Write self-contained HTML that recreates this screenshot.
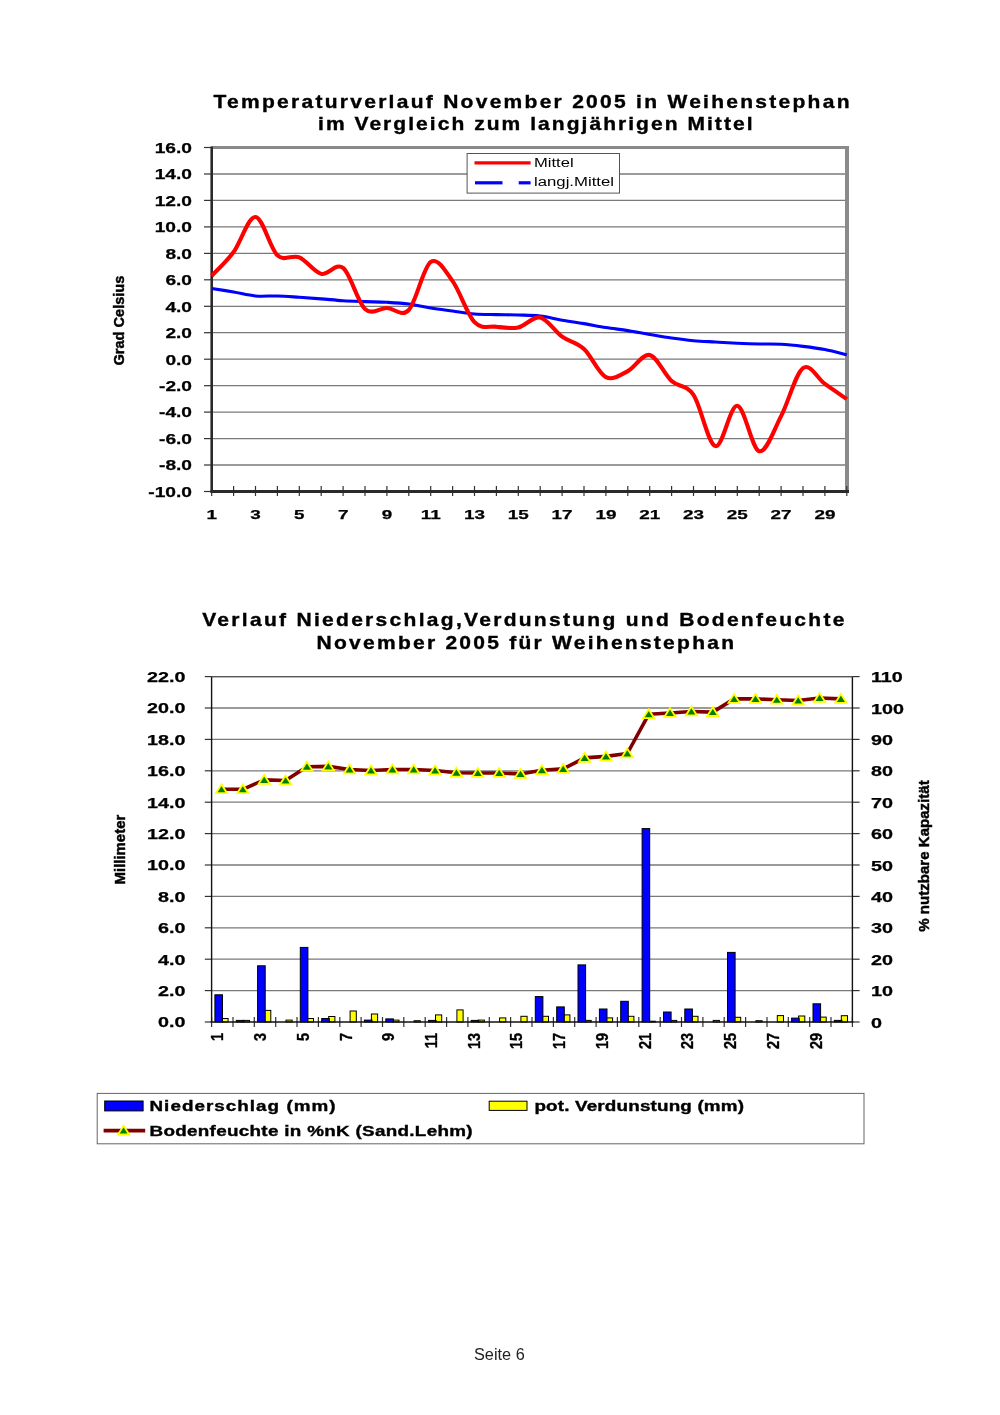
<!DOCTYPE html>
<html><head><meta charset="utf-8"><title>Seite 6</title>
<style>
html,body{margin:0;padding:0;background:#fff;}
svg{display:block;font-family:"Liberation Sans", Arial, sans-serif;}
</style></head><body>
<svg width="1000" height="1415" viewBox="0 0 1000 1415">
<rect width="1000" height="1415" fill="#fff"/>
<text transform="translate(213.5,107.5) scale(1.2,1)" font-size="17.5" font-weight="bold" fill="#000" stroke="#000" stroke-width="0.35" textLength="530.0" lengthAdjust="spacing">Temperaturverlauf November 2005 in Weihenstephan</text>
<text transform="translate(318.0,129.5) scale(1.2,1)" font-size="17.5" font-weight="bold" fill="#000" stroke="#000" stroke-width="0.35" textLength="362.1" lengthAdjust="spacing">im Vergleich zum langjährigen Mittel</text>
<line x1="211.7" y1="465.0" x2="847.0" y2="465.0" stroke="#7a7a7a" stroke-width="1.3"/>
<line x1="211.7" y1="438.6" x2="847.0" y2="438.6" stroke="#7a7a7a" stroke-width="1.3"/>
<line x1="211.7" y1="412.1" x2="847.0" y2="412.1" stroke="#7a7a7a" stroke-width="1.3"/>
<line x1="211.7" y1="385.7" x2="847.0" y2="385.7" stroke="#7a7a7a" stroke-width="1.3"/>
<line x1="211.7" y1="359.2" x2="847.0" y2="359.2" stroke="#7a7a7a" stroke-width="1.3"/>
<line x1="211.7" y1="332.7" x2="847.0" y2="332.7" stroke="#7a7a7a" stroke-width="1.3"/>
<line x1="211.7" y1="306.3" x2="847.0" y2="306.3" stroke="#7a7a7a" stroke-width="1.3"/>
<line x1="211.7" y1="279.8" x2="847.0" y2="279.8" stroke="#7a7a7a" stroke-width="1.3"/>
<line x1="211.7" y1="253.4" x2="847.0" y2="253.4" stroke="#7a7a7a" stroke-width="1.3"/>
<line x1="211.7" y1="226.9" x2="847.0" y2="226.9" stroke="#7a7a7a" stroke-width="1.3"/>
<line x1="211.7" y1="200.4" x2="847.0" y2="200.4" stroke="#7a7a7a" stroke-width="1.3"/>
<line x1="211.7" y1="174.0" x2="847.0" y2="174.0" stroke="#7a7a7a" stroke-width="1.3"/>
<line x1="204.0" y1="491.5" x2="211.7" y2="491.5" stroke="#333" stroke-width="1.2"/>
<line x1="204.0" y1="465.0" x2="211.7" y2="465.0" stroke="#333" stroke-width="1.2"/>
<line x1="204.0" y1="438.6" x2="211.7" y2="438.6" stroke="#333" stroke-width="1.2"/>
<line x1="204.0" y1="412.1" x2="211.7" y2="412.1" stroke="#333" stroke-width="1.2"/>
<line x1="204.0" y1="385.7" x2="211.7" y2="385.7" stroke="#333" stroke-width="1.2"/>
<line x1="204.0" y1="359.2" x2="211.7" y2="359.2" stroke="#333" stroke-width="1.2"/>
<line x1="204.0" y1="332.7" x2="211.7" y2="332.7" stroke="#333" stroke-width="1.2"/>
<line x1="204.0" y1="306.3" x2="211.7" y2="306.3" stroke="#333" stroke-width="1.2"/>
<line x1="204.0" y1="279.8" x2="211.7" y2="279.8" stroke="#333" stroke-width="1.2"/>
<line x1="204.0" y1="253.4" x2="211.7" y2="253.4" stroke="#333" stroke-width="1.2"/>
<line x1="204.0" y1="226.9" x2="211.7" y2="226.9" stroke="#333" stroke-width="1.2"/>
<line x1="204.0" y1="200.4" x2="211.7" y2="200.4" stroke="#333" stroke-width="1.2"/>
<line x1="204.0" y1="174.0" x2="211.7" y2="174.0" stroke="#333" stroke-width="1.2"/>
<line x1="204.0" y1="147.5" x2="211.7" y2="147.5" stroke="#333" stroke-width="1.2"/>
<line x1="211.7" y1="147.5" x2="849.0" y2="147.5" stroke="#8a8a8a" stroke-width="3"/>
<line x1="847.0" y1="147.5" x2="847.0" y2="491.5" stroke="#8a8a8a" stroke-width="4"/>
<line x1="211.7" y1="486.0" x2="211.7" y2="496.0" stroke="#333" stroke-width="1.2"/>
<line x1="233.6" y1="486.0" x2="233.6" y2="496.0" stroke="#333" stroke-width="1.2"/>
<line x1="255.5" y1="486.0" x2="255.5" y2="496.0" stroke="#333" stroke-width="1.2"/>
<line x1="277.4" y1="486.0" x2="277.4" y2="496.0" stroke="#333" stroke-width="1.2"/>
<line x1="299.3" y1="486.0" x2="299.3" y2="496.0" stroke="#333" stroke-width="1.2"/>
<line x1="321.2" y1="486.0" x2="321.2" y2="496.0" stroke="#333" stroke-width="1.2"/>
<line x1="343.1" y1="486.0" x2="343.1" y2="496.0" stroke="#333" stroke-width="1.2"/>
<line x1="365.0" y1="486.0" x2="365.0" y2="496.0" stroke="#333" stroke-width="1.2"/>
<line x1="386.9" y1="486.0" x2="386.9" y2="496.0" stroke="#333" stroke-width="1.2"/>
<line x1="408.8" y1="486.0" x2="408.8" y2="496.0" stroke="#333" stroke-width="1.2"/>
<line x1="430.7" y1="486.0" x2="430.7" y2="496.0" stroke="#333" stroke-width="1.2"/>
<line x1="452.6" y1="486.0" x2="452.6" y2="496.0" stroke="#333" stroke-width="1.2"/>
<line x1="474.5" y1="486.0" x2="474.5" y2="496.0" stroke="#333" stroke-width="1.2"/>
<line x1="496.4" y1="486.0" x2="496.4" y2="496.0" stroke="#333" stroke-width="1.2"/>
<line x1="518.3" y1="486.0" x2="518.3" y2="496.0" stroke="#333" stroke-width="1.2"/>
<line x1="540.2" y1="486.0" x2="540.2" y2="496.0" stroke="#333" stroke-width="1.2"/>
<line x1="562.1" y1="486.0" x2="562.1" y2="496.0" stroke="#333" stroke-width="1.2"/>
<line x1="584.0" y1="486.0" x2="584.0" y2="496.0" stroke="#333" stroke-width="1.2"/>
<line x1="605.9" y1="486.0" x2="605.9" y2="496.0" stroke="#333" stroke-width="1.2"/>
<line x1="627.8" y1="486.0" x2="627.8" y2="496.0" stroke="#333" stroke-width="1.2"/>
<line x1="649.7" y1="486.0" x2="649.7" y2="496.0" stroke="#333" stroke-width="1.2"/>
<line x1="671.6" y1="486.0" x2="671.6" y2="496.0" stroke="#333" stroke-width="1.2"/>
<line x1="693.5" y1="486.0" x2="693.5" y2="496.0" stroke="#333" stroke-width="1.2"/>
<line x1="715.4" y1="486.0" x2="715.4" y2="496.0" stroke="#333" stroke-width="1.2"/>
<line x1="737.3" y1="486.0" x2="737.3" y2="496.0" stroke="#333" stroke-width="1.2"/>
<line x1="759.2" y1="486.0" x2="759.2" y2="496.0" stroke="#333" stroke-width="1.2"/>
<line x1="781.1" y1="486.0" x2="781.1" y2="496.0" stroke="#333" stroke-width="1.2"/>
<line x1="803.0" y1="486.0" x2="803.0" y2="496.0" stroke="#333" stroke-width="1.2"/>
<line x1="824.9" y1="486.0" x2="824.9" y2="496.0" stroke="#333" stroke-width="1.2"/>
<line x1="846.8" y1="486.0" x2="846.8" y2="496.0" stroke="#333" stroke-width="1.2"/>
<line x1="211.7" y1="146.5" x2="211.7" y2="493.0" stroke="#2a2a2a" stroke-width="2.6"/>
<line x1="210.7" y1="491.5" x2="849.0" y2="491.5" stroke="#2a2a2a" stroke-width="3"/>
<text x="148.3" y="496.8" font-size="14.2" font-weight="bold" fill="#000" stroke="#000" stroke-width="0.25" textLength="43.7" lengthAdjust="spacingAndGlyphs">-10.0</text>
<text x="159.0" y="470.3" font-size="14.2" font-weight="bold" fill="#000" stroke="#000" stroke-width="0.25" textLength="33.0" lengthAdjust="spacingAndGlyphs">-8.0</text>
<text x="159.0" y="443.9" font-size="14.2" font-weight="bold" fill="#000" stroke="#000" stroke-width="0.25" textLength="33.0" lengthAdjust="spacingAndGlyphs">-6.0</text>
<text x="159.0" y="417.4" font-size="14.2" font-weight="bold" fill="#000" stroke="#000" stroke-width="0.25" textLength="33.0" lengthAdjust="spacingAndGlyphs">-4.0</text>
<text x="159.0" y="391.0" font-size="14.2" font-weight="bold" fill="#000" stroke="#000" stroke-width="0.25" textLength="33.0" lengthAdjust="spacingAndGlyphs">-2.0</text>
<text x="165.4" y="364.5" font-size="14.2" font-weight="bold" fill="#000" stroke="#000" stroke-width="0.25" textLength="26.6" lengthAdjust="spacingAndGlyphs">0.0</text>
<text x="165.4" y="338.0" font-size="14.2" font-weight="bold" fill="#000" stroke="#000" stroke-width="0.25" textLength="26.6" lengthAdjust="spacingAndGlyphs">2.0</text>
<text x="165.4" y="311.6" font-size="14.2" font-weight="bold" fill="#000" stroke="#000" stroke-width="0.25" textLength="26.6" lengthAdjust="spacingAndGlyphs">4.0</text>
<text x="165.4" y="285.1" font-size="14.2" font-weight="bold" fill="#000" stroke="#000" stroke-width="0.25" textLength="26.6" lengthAdjust="spacingAndGlyphs">6.0</text>
<text x="165.4" y="258.7" font-size="14.2" font-weight="bold" fill="#000" stroke="#000" stroke-width="0.25" textLength="26.6" lengthAdjust="spacingAndGlyphs">8.0</text>
<text x="154.7" y="232.2" font-size="14.2" font-weight="bold" fill="#000" stroke="#000" stroke-width="0.25" textLength="37.3" lengthAdjust="spacingAndGlyphs">10.0</text>
<text x="154.7" y="205.7" font-size="14.2" font-weight="bold" fill="#000" stroke="#000" stroke-width="0.25" textLength="37.3" lengthAdjust="spacingAndGlyphs">12.0</text>
<text x="154.7" y="179.3" font-size="14.2" font-weight="bold" fill="#000" stroke="#000" stroke-width="0.25" textLength="37.3" lengthAdjust="spacingAndGlyphs">14.0</text>
<text x="154.7" y="152.8" font-size="14.2" font-weight="bold" fill="#000" stroke="#000" stroke-width="0.25" textLength="37.3" lengthAdjust="spacingAndGlyphs">16.0</text>
<text x="206.5" y="519.0" font-size="13.2" font-weight="bold" fill="#000" stroke="#000" stroke-width="0.25" textLength="10.5" lengthAdjust="spacingAndGlyphs">1</text>
<text x="250.3" y="519.0" font-size="13.2" font-weight="bold" fill="#000" stroke="#000" stroke-width="0.25" textLength="10.5" lengthAdjust="spacingAndGlyphs">3</text>
<text x="294.1" y="519.0" font-size="13.2" font-weight="bold" fill="#000" stroke="#000" stroke-width="0.25" textLength="10.5" lengthAdjust="spacingAndGlyphs">5</text>
<text x="337.9" y="519.0" font-size="13.2" font-weight="bold" fill="#000" stroke="#000" stroke-width="0.25" textLength="10.5" lengthAdjust="spacingAndGlyphs">7</text>
<text x="381.7" y="519.0" font-size="13.2" font-weight="bold" fill="#000" stroke="#000" stroke-width="0.25" textLength="10.5" lengthAdjust="spacingAndGlyphs">9</text>
<text x="420.7" y="519.0" font-size="13.2" font-weight="bold" fill="#000" stroke="#000" stroke-width="0.25" textLength="20.0" lengthAdjust="spacingAndGlyphs">11</text>
<text x="464.0" y="519.0" font-size="13.2" font-weight="bold" fill="#000" stroke="#000" stroke-width="0.25" textLength="21.0" lengthAdjust="spacingAndGlyphs">13</text>
<text x="507.8" y="519.0" font-size="13.2" font-weight="bold" fill="#000" stroke="#000" stroke-width="0.25" textLength="21.0" lengthAdjust="spacingAndGlyphs">15</text>
<text x="551.6" y="519.0" font-size="13.2" font-weight="bold" fill="#000" stroke="#000" stroke-width="0.25" textLength="21.0" lengthAdjust="spacingAndGlyphs">17</text>
<text x="595.4" y="519.0" font-size="13.2" font-weight="bold" fill="#000" stroke="#000" stroke-width="0.25" textLength="21.0" lengthAdjust="spacingAndGlyphs">19</text>
<text x="639.2" y="519.0" font-size="13.2" font-weight="bold" fill="#000" stroke="#000" stroke-width="0.25" textLength="21.0" lengthAdjust="spacingAndGlyphs">21</text>
<text x="683.0" y="519.0" font-size="13.2" font-weight="bold" fill="#000" stroke="#000" stroke-width="0.25" textLength="21.0" lengthAdjust="spacingAndGlyphs">23</text>
<text x="726.8" y="519.0" font-size="13.2" font-weight="bold" fill="#000" stroke="#000" stroke-width="0.25" textLength="21.0" lengthAdjust="spacingAndGlyphs">25</text>
<text x="770.6" y="519.0" font-size="13.2" font-weight="bold" fill="#000" stroke="#000" stroke-width="0.25" textLength="21.0" lengthAdjust="spacingAndGlyphs">27</text>
<text x="814.4" y="519.0" font-size="13.2" font-weight="bold" fill="#000" stroke="#000" stroke-width="0.25" textLength="21.0" lengthAdjust="spacingAndGlyphs">29</text>
<path d="M211.70,288.42 C215.35,289.01 226.30,290.73 233.60,291.99 C240.90,293.25 248.20,295.30 255.50,295.96 C262.80,296.62 270.10,295.74 277.40,295.96 C284.70,296.18 292.00,296.80 299.30,297.28 C306.60,297.77 313.90,298.30 321.20,298.87 C328.50,299.44 335.80,300.26 343.10,300.72 C350.40,301.19 357.70,301.38 365.00,301.65 C372.30,301.91 379.60,301.91 386.90,302.31 C394.20,302.71 401.50,303.08 408.80,304.03 C416.10,304.98 423.40,306.83 430.70,308.00 C438.00,309.17 445.30,310.05 452.60,311.04 C459.90,312.04 467.20,313.36 474.50,313.95 C481.80,314.55 489.10,314.44 496.40,314.61 C503.70,314.79 511.00,314.77 518.30,315.01 C525.60,315.25 532.90,315.21 540.20,316.07 C547.50,316.93 554.80,318.91 562.10,320.17 C569.40,321.43 576.70,322.38 584.00,323.61 C591.30,324.85 598.60,326.41 605.90,327.58 C613.20,328.75 620.50,329.48 627.80,330.62 C635.10,331.77 642.40,333.23 649.70,334.46 C657.00,335.69 664.30,337.00 671.60,338.03 C678.90,339.07 686.20,340.02 693.50,340.68 C700.80,341.34 708.10,341.58 715.40,342.00 C722.70,342.42 730.00,342.86 737.30,343.19 C744.60,343.52 751.90,343.81 759.20,343.99 C766.50,344.16 773.80,343.85 781.10,344.25 C788.40,344.65 795.70,345.48 803.00,346.37 C810.30,347.25 817.60,348.13 824.90,349.54 C832.20,350.95 843.15,353.95 846.80,354.83" fill="none" stroke="#0000ff" stroke-width="3.1" stroke-linejoin="round"/>
<path d="M211.70,275.85 C215.35,271.88 226.30,261.85 233.60,252.04 C240.90,242.22 248.20,216.43 255.50,216.98 C262.80,217.53 270.10,248.62 277.40,255.34 C284.70,262.07 292.00,254.24 299.30,257.33 C306.60,260.42 313.90,272.10 321.20,273.87 C328.50,275.63 335.80,262.07 343.10,267.91 C350.40,273.76 357.70,302.24 365.00,308.93 C372.30,315.61 379.60,307.82 386.90,308.00 C394.20,308.18 401.50,317.66 408.80,309.98 C416.10,302.31 423.40,266.77 430.70,261.96 C438.00,257.15 445.30,271.11 452.60,281.14 C459.90,291.18 467.20,314.55 474.50,322.16 C481.80,329.76 489.10,325.90 496.40,326.79 C503.70,327.67 511.00,328.99 518.30,327.45 C525.60,325.90 532.90,315.98 540.20,317.53 C547.50,319.07 554.80,331.46 562.10,336.71 C569.40,341.96 576.70,342.29 584.00,349.01 C591.30,355.74 598.60,373.38 605.90,377.06 C613.20,380.74 620.50,374.79 627.80,371.11 C635.10,367.42 642.40,353.31 649.70,354.97 C657.00,356.62 664.30,374.37 671.60,381.03 C678.90,387.69 686.20,384.07 693.50,394.92 C700.80,405.77 708.10,444.31 715.40,446.12 C722.70,447.93 730.00,404.93 737.30,405.77 C744.60,406.61 751.90,449.43 759.20,451.15 C766.50,452.87 773.80,429.94 781.10,416.09 C788.40,402.24 795.70,373.42 803.00,368.06 C810.30,362.71 817.60,378.76 824.90,383.94 C832.20,389.12 843.15,396.62 846.80,399.15" fill="none" stroke="#ff0000" stroke-width="4.1" stroke-linejoin="round"/>
<rect x="467.1" y="153.5" width="152.4" height="39.6" fill="#fff" stroke="#555" stroke-width="1"/>
<line x1="474.5" y1="162.9" x2="530.6" y2="162.9" stroke="#ff0000" stroke-width="3.2"/>
<line x1="475.0" y1="182.8" x2="502.5" y2="182.8" stroke="#0000ff" stroke-width="3.2"/>
<line x1="518.7" y1="182.8" x2="530.6" y2="182.8" stroke="#0000ff" stroke-width="3.2"/>
<text x="534.0" y="166.6" font-size="12.5" font-weight="normal" text-anchor="start" fill="#000" textLength="39.6" lengthAdjust="spacingAndGlyphs">Mittel</text>
<text x="534.0" y="185.8" font-size="12.5" font-weight="normal" text-anchor="start" fill="#000" textLength="80.0" lengthAdjust="spacingAndGlyphs">langj.Mittel</text>
<text transform="translate(124.2,320.6) rotate(-90)" font-size="14.3" font-weight="bold" stroke="#000" stroke-width="0.45" text-anchor="middle" textLength="89.8" lengthAdjust="spacingAndGlyphs">Grad Celsius</text>
<text transform="translate(202.2,625.8) scale(1.2,1)" font-size="17.5" font-weight="bold" fill="#000" stroke="#000" stroke-width="0.35" textLength="535.2" lengthAdjust="spacing">Verlauf Niederschlag,Verdunstung und Bodenfeuchte</text>
<text transform="translate(316.6,648.5) scale(1.2,1)" font-size="17.5" font-weight="bold" fill="#000" stroke="#000" stroke-width="0.35" textLength="347.8" lengthAdjust="spacing">November 2005 für Weihenstephan</text>
<line x1="211.6" y1="990.6" x2="852.4" y2="990.6" stroke="#7a7a7a" stroke-width="1.3"/>
<line x1="211.6" y1="959.2" x2="852.4" y2="959.2" stroke="#7a7a7a" stroke-width="1.3"/>
<line x1="211.6" y1="927.8" x2="852.4" y2="927.8" stroke="#7a7a7a" stroke-width="1.3"/>
<line x1="211.6" y1="896.4" x2="852.4" y2="896.4" stroke="#7a7a7a" stroke-width="1.3"/>
<line x1="211.6" y1="865.0" x2="852.4" y2="865.0" stroke="#7a7a7a" stroke-width="1.3"/>
<line x1="211.6" y1="833.6" x2="852.4" y2="833.6" stroke="#7a7a7a" stroke-width="1.3"/>
<line x1="211.6" y1="802.2" x2="852.4" y2="802.2" stroke="#7a7a7a" stroke-width="1.3"/>
<line x1="211.6" y1="770.8" x2="852.4" y2="770.8" stroke="#7a7a7a" stroke-width="1.3"/>
<line x1="211.6" y1="739.4" x2="852.4" y2="739.4" stroke="#7a7a7a" stroke-width="1.3"/>
<line x1="211.6" y1="708.0" x2="852.4" y2="708.0" stroke="#7a7a7a" stroke-width="1.3"/>
<line x1="211.6" y1="676.6" x2="852.4" y2="676.6" stroke="#7a7a7a" stroke-width="1.3"/>
<line x1="204.8" y1="1022.0" x2="211.6" y2="1022.0" stroke="#333" stroke-width="1.2"/>
<line x1="852.4" y1="1022.0" x2="859.6" y2="1022.0" stroke="#333" stroke-width="1.2"/>
<line x1="204.8" y1="990.6" x2="211.6" y2="990.6" stroke="#333" stroke-width="1.2"/>
<line x1="852.4" y1="990.6" x2="859.6" y2="990.6" stroke="#333" stroke-width="1.2"/>
<line x1="204.8" y1="959.2" x2="211.6" y2="959.2" stroke="#333" stroke-width="1.2"/>
<line x1="852.4" y1="959.2" x2="859.6" y2="959.2" stroke="#333" stroke-width="1.2"/>
<line x1="204.8" y1="927.8" x2="211.6" y2="927.8" stroke="#333" stroke-width="1.2"/>
<line x1="852.4" y1="927.8" x2="859.6" y2="927.8" stroke="#333" stroke-width="1.2"/>
<line x1="204.8" y1="896.4" x2="211.6" y2="896.4" stroke="#333" stroke-width="1.2"/>
<line x1="852.4" y1="896.4" x2="859.6" y2="896.4" stroke="#333" stroke-width="1.2"/>
<line x1="204.8" y1="865.0" x2="211.6" y2="865.0" stroke="#333" stroke-width="1.2"/>
<line x1="852.4" y1="865.0" x2="859.6" y2="865.0" stroke="#333" stroke-width="1.2"/>
<line x1="204.8" y1="833.6" x2="211.6" y2="833.6" stroke="#333" stroke-width="1.2"/>
<line x1="852.4" y1="833.6" x2="859.6" y2="833.6" stroke="#333" stroke-width="1.2"/>
<line x1="204.8" y1="802.2" x2="211.6" y2="802.2" stroke="#333" stroke-width="1.2"/>
<line x1="852.4" y1="802.2" x2="859.6" y2="802.2" stroke="#333" stroke-width="1.2"/>
<line x1="204.8" y1="770.8" x2="211.6" y2="770.8" stroke="#333" stroke-width="1.2"/>
<line x1="852.4" y1="770.8" x2="859.6" y2="770.8" stroke="#333" stroke-width="1.2"/>
<line x1="204.8" y1="739.4" x2="211.6" y2="739.4" stroke="#333" stroke-width="1.2"/>
<line x1="852.4" y1="739.4" x2="859.6" y2="739.4" stroke="#333" stroke-width="1.2"/>
<line x1="204.8" y1="708.0" x2="211.6" y2="708.0" stroke="#333" stroke-width="1.2"/>
<line x1="852.4" y1="708.0" x2="859.6" y2="708.0" stroke="#333" stroke-width="1.2"/>
<line x1="204.8" y1="676.6" x2="211.6" y2="676.6" stroke="#333" stroke-width="1.2"/>
<line x1="852.4" y1="676.6" x2="859.6" y2="676.6" stroke="#333" stroke-width="1.2"/>
<line x1="211.6" y1="1017.0" x2="211.6" y2="1027.0" stroke="#333" stroke-width="1.2"/>
<line x1="233.0" y1="1017.0" x2="233.0" y2="1027.0" stroke="#333" stroke-width="1.2"/>
<line x1="254.3" y1="1017.0" x2="254.3" y2="1027.0" stroke="#333" stroke-width="1.2"/>
<line x1="275.7" y1="1017.0" x2="275.7" y2="1027.0" stroke="#333" stroke-width="1.2"/>
<line x1="297.0" y1="1017.0" x2="297.0" y2="1027.0" stroke="#333" stroke-width="1.2"/>
<line x1="318.4" y1="1017.0" x2="318.4" y2="1027.0" stroke="#333" stroke-width="1.2"/>
<line x1="339.8" y1="1017.0" x2="339.8" y2="1027.0" stroke="#333" stroke-width="1.2"/>
<line x1="361.1" y1="1017.0" x2="361.1" y2="1027.0" stroke="#333" stroke-width="1.2"/>
<line x1="382.5" y1="1017.0" x2="382.5" y2="1027.0" stroke="#333" stroke-width="1.2"/>
<line x1="403.8" y1="1017.0" x2="403.8" y2="1027.0" stroke="#333" stroke-width="1.2"/>
<line x1="425.2" y1="1017.0" x2="425.2" y2="1027.0" stroke="#333" stroke-width="1.2"/>
<line x1="446.6" y1="1017.0" x2="446.6" y2="1027.0" stroke="#333" stroke-width="1.2"/>
<line x1="467.9" y1="1017.0" x2="467.9" y2="1027.0" stroke="#333" stroke-width="1.2"/>
<line x1="489.3" y1="1017.0" x2="489.3" y2="1027.0" stroke="#333" stroke-width="1.2"/>
<line x1="510.6" y1="1017.0" x2="510.6" y2="1027.0" stroke="#333" stroke-width="1.2"/>
<line x1="532.0" y1="1017.0" x2="532.0" y2="1027.0" stroke="#333" stroke-width="1.2"/>
<line x1="553.4" y1="1017.0" x2="553.4" y2="1027.0" stroke="#333" stroke-width="1.2"/>
<line x1="574.7" y1="1017.0" x2="574.7" y2="1027.0" stroke="#333" stroke-width="1.2"/>
<line x1="596.1" y1="1017.0" x2="596.1" y2="1027.0" stroke="#333" stroke-width="1.2"/>
<line x1="617.4" y1="1017.0" x2="617.4" y2="1027.0" stroke="#333" stroke-width="1.2"/>
<line x1="638.8" y1="1017.0" x2="638.8" y2="1027.0" stroke="#333" stroke-width="1.2"/>
<line x1="660.2" y1="1017.0" x2="660.2" y2="1027.0" stroke="#333" stroke-width="1.2"/>
<line x1="681.5" y1="1017.0" x2="681.5" y2="1027.0" stroke="#333" stroke-width="1.2"/>
<line x1="702.9" y1="1017.0" x2="702.9" y2="1027.0" stroke="#333" stroke-width="1.2"/>
<line x1="724.2" y1="1017.0" x2="724.2" y2="1027.0" stroke="#333" stroke-width="1.2"/>
<line x1="745.6" y1="1017.0" x2="745.6" y2="1027.0" stroke="#333" stroke-width="1.2"/>
<line x1="767.0" y1="1017.0" x2="767.0" y2="1027.0" stroke="#333" stroke-width="1.2"/>
<line x1="788.3" y1="1017.0" x2="788.3" y2="1027.0" stroke="#333" stroke-width="1.2"/>
<line x1="809.7" y1="1017.0" x2="809.7" y2="1027.0" stroke="#333" stroke-width="1.2"/>
<line x1="831.0" y1="1017.0" x2="831.0" y2="1027.0" stroke="#333" stroke-width="1.2"/>
<line x1="852.4" y1="1017.0" x2="852.4" y2="1027.0" stroke="#333" stroke-width="1.2"/>
<rect x="221.9" y="1018.5" width="6.2" height="3.5" fill="#ffff00" stroke="#000" stroke-width="1"/>
<rect x="214.9" y="994.8" width="7.6" height="27.2" fill="#0000ff" stroke="#000" stroke-width="1"/>
<rect x="243.3" y="1020.4" width="6.2" height="1.6" fill="#ffff00" stroke="#000" stroke-width="1"/>
<rect x="236.3" y="1020.4" width="7.6" height="1.6" fill="#0000ff" stroke="#000" stroke-width="1"/>
<rect x="264.6" y="1010.4" width="6.2" height="11.6" fill="#ffff00" stroke="#000" stroke-width="1"/>
<rect x="257.6" y="965.8" width="7.6" height="56.2" fill="#0000ff" stroke="#000" stroke-width="1"/>
<rect x="286.0" y="1020.1" width="6.2" height="1.9" fill="#ffff00" stroke="#000" stroke-width="1"/>
<rect x="307.3" y="1018.5" width="6.2" height="3.5" fill="#ffff00" stroke="#000" stroke-width="1"/>
<rect x="300.3" y="947.4" width="7.6" height="74.6" fill="#0000ff" stroke="#000" stroke-width="1"/>
<rect x="328.7" y="1016.5" width="6.2" height="5.5" fill="#ffff00" stroke="#000" stroke-width="1"/>
<rect x="321.7" y="1018.5" width="7.6" height="3.5" fill="#0000ff" stroke="#000" stroke-width="1"/>
<rect x="350.1" y="1011.0" width="6.2" height="11.0" fill="#ffff00" stroke="#000" stroke-width="1"/>
<rect x="371.4" y="1014.0" width="6.2" height="8.0" fill="#ffff00" stroke="#000" stroke-width="1"/>
<rect x="364.4" y="1020.1" width="7.6" height="1.9" fill="#0000ff" stroke="#000" stroke-width="1"/>
<rect x="392.8" y="1020.1" width="6.2" height="1.9" fill="#ffff00" stroke="#000" stroke-width="1"/>
<rect x="385.8" y="1018.9" width="7.6" height="3.1" fill="#0000ff" stroke="#000" stroke-width="1"/>
<rect x="414.1" y="1020.7" width="6.2" height="1.3" fill="#ffff00" stroke="#000" stroke-width="1"/>
<rect x="435.5" y="1014.9" width="6.2" height="7.1" fill="#ffff00" stroke="#000" stroke-width="1"/>
<rect x="428.5" y="1020.4" width="7.6" height="1.6" fill="#0000ff" stroke="#000" stroke-width="1"/>
<rect x="456.9" y="1009.9" width="6.2" height="12.1" fill="#ffff00" stroke="#000" stroke-width="1"/>
<rect x="478.2" y="1020.1" width="6.2" height="1.9" fill="#ffff00" stroke="#000" stroke-width="1"/>
<rect x="471.2" y="1020.4" width="7.6" height="1.6" fill="#0000ff" stroke="#000" stroke-width="1"/>
<rect x="499.6" y="1017.9" width="6.2" height="4.1" fill="#ffff00" stroke="#000" stroke-width="1"/>
<rect x="520.9" y="1016.3" width="6.2" height="5.7" fill="#ffff00" stroke="#000" stroke-width="1"/>
<rect x="542.3" y="1016.3" width="6.2" height="5.7" fill="#ffff00" stroke="#000" stroke-width="1"/>
<rect x="535.3" y="996.6" width="7.6" height="25.4" fill="#0000ff" stroke="#000" stroke-width="1"/>
<rect x="563.7" y="1014.9" width="6.2" height="7.1" fill="#ffff00" stroke="#000" stroke-width="1"/>
<rect x="556.7" y="1006.9" width="7.6" height="15.1" fill="#0000ff" stroke="#000" stroke-width="1"/>
<rect x="585.0" y="1020.4" width="6.2" height="1.6" fill="#ffff00" stroke="#000" stroke-width="1"/>
<rect x="578.0" y="964.9" width="7.6" height="57.1" fill="#0000ff" stroke="#000" stroke-width="1"/>
<rect x="606.4" y="1017.9" width="6.2" height="4.1" fill="#ffff00" stroke="#000" stroke-width="1"/>
<rect x="599.4" y="1009.0" width="7.6" height="13.0" fill="#0000ff" stroke="#000" stroke-width="1"/>
<rect x="627.7" y="1016.3" width="6.2" height="5.7" fill="#ffff00" stroke="#000" stroke-width="1"/>
<rect x="620.7" y="1001.3" width="7.6" height="20.7" fill="#0000ff" stroke="#000" stroke-width="1"/>
<rect x="649.1" y="1021.2" width="6.2" height="0.8" fill="#ffff00" stroke="#000" stroke-width="1"/>
<rect x="642.1" y="828.6" width="7.6" height="193.4" fill="#0000ff" stroke="#000" stroke-width="1"/>
<rect x="670.5" y="1020.4" width="6.2" height="1.6" fill="#ffff00" stroke="#000" stroke-width="1"/>
<rect x="663.5" y="1012.0" width="7.6" height="10.0" fill="#0000ff" stroke="#000" stroke-width="1"/>
<rect x="691.8" y="1016.3" width="6.2" height="5.7" fill="#ffff00" stroke="#000" stroke-width="1"/>
<rect x="684.8" y="1009.0" width="7.6" height="13.0" fill="#0000ff" stroke="#000" stroke-width="1"/>
<rect x="713.2" y="1020.4" width="6.2" height="1.6" fill="#ffff00" stroke="#000" stroke-width="1"/>
<rect x="734.5" y="1017.3" width="6.2" height="4.7" fill="#ffff00" stroke="#000" stroke-width="1"/>
<rect x="727.5" y="952.4" width="7.6" height="69.6" fill="#0000ff" stroke="#000" stroke-width="1"/>
<rect x="755.9" y="1020.7" width="6.2" height="1.3" fill="#ffff00" stroke="#000" stroke-width="1"/>
<rect x="777.3" y="1015.6" width="6.2" height="6.4" fill="#ffff00" stroke="#000" stroke-width="1"/>
<rect x="798.6" y="1016.0" width="6.2" height="6.0" fill="#ffff00" stroke="#000" stroke-width="1"/>
<rect x="791.6" y="1018.1" width="7.6" height="3.9" fill="#0000ff" stroke="#000" stroke-width="1"/>
<rect x="820.0" y="1017.1" width="6.2" height="4.9" fill="#ffff00" stroke="#000" stroke-width="1"/>
<rect x="813.0" y="1003.8" width="7.6" height="18.2" fill="#0000ff" stroke="#000" stroke-width="1"/>
<rect x="841.3" y="1015.7" width="6.2" height="6.3" fill="#ffff00" stroke="#000" stroke-width="1"/>
<rect x="834.3" y="1020.4" width="7.6" height="1.6" fill="#0000ff" stroke="#000" stroke-width="1"/>
<line x1="211.6" y1="676.6" x2="211.6" y2="1022.0" stroke="#111" stroke-width="1.4"/>
<line x1="852.4" y1="676.6" x2="852.4" y2="1022.0" stroke="#111" stroke-width="1.4"/>
<line x1="211.6" y1="676.6" x2="852.4" y2="676.6" stroke="#555" stroke-width="1.3"/>
<line x1="210.6" y1="1022.0" x2="853.4" y2="1022.0" stroke="#111" stroke-width="1.6"/>
<polyline points="221.5,789.3 242.8,789.3 264.2,779.9 285.6,780.5 306.9,766.7 328.3,766.4 349.6,769.5 371.0,770.5 392.4,769.5 413.7,769.5 435.1,770.5 456.4,772.7 477.8,773.0 499.2,773.0 520.5,773.9 541.9,770.2 563.2,768.9 584.6,757.9 606.0,756.4 627.3,753.5 648.7,714.3 670.0,713.0 691.4,711.5 712.8,712.1 734.1,698.9 755.5,698.9 776.8,699.8 798.2,700.5 819.6,698.0 840.9,698.9" fill="none" stroke="#800000" stroke-width="3.6" stroke-linejoin="round"/>
<polygon points="221.5,784.4 215.9,793.2 227.1,793.2" fill="#008000" stroke="#ffff00" stroke-width="1.8" stroke-linejoin="miter"/>
<polygon points="242.8,784.4 237.2,793.2 248.4,793.2" fill="#008000" stroke="#ffff00" stroke-width="1.8" stroke-linejoin="miter"/>
<polygon points="264.2,775.0 258.6,783.8 269.8,783.8" fill="#008000" stroke="#ffff00" stroke-width="1.8" stroke-linejoin="miter"/>
<polygon points="285.6,775.6 280.0,784.4 291.2,784.4" fill="#008000" stroke="#ffff00" stroke-width="1.8" stroke-linejoin="miter"/>
<polygon points="306.9,761.8 301.3,770.6 312.5,770.6" fill="#008000" stroke="#ffff00" stroke-width="1.8" stroke-linejoin="miter"/>
<polygon points="328.3,761.5 322.7,770.3 333.9,770.3" fill="#008000" stroke="#ffff00" stroke-width="1.8" stroke-linejoin="miter"/>
<polygon points="349.6,764.6 344.0,773.4 355.2,773.4" fill="#008000" stroke="#ffff00" stroke-width="1.8" stroke-linejoin="miter"/>
<polygon points="371.0,765.6 365.4,774.4 376.6,774.4" fill="#008000" stroke="#ffff00" stroke-width="1.8" stroke-linejoin="miter"/>
<polygon points="392.4,764.6 386.8,773.4 398.0,773.4" fill="#008000" stroke="#ffff00" stroke-width="1.8" stroke-linejoin="miter"/>
<polygon points="413.7,764.6 408.1,773.4 419.3,773.4" fill="#008000" stroke="#ffff00" stroke-width="1.8" stroke-linejoin="miter"/>
<polygon points="435.1,765.6 429.5,774.4 440.7,774.4" fill="#008000" stroke="#ffff00" stroke-width="1.8" stroke-linejoin="miter"/>
<polygon points="456.4,767.8 450.8,776.6 462.0,776.6" fill="#008000" stroke="#ffff00" stroke-width="1.8" stroke-linejoin="miter"/>
<polygon points="477.8,768.1 472.2,776.9 483.4,776.9" fill="#008000" stroke="#ffff00" stroke-width="1.8" stroke-linejoin="miter"/>
<polygon points="499.2,768.1 493.6,776.9 504.8,776.9" fill="#008000" stroke="#ffff00" stroke-width="1.8" stroke-linejoin="miter"/>
<polygon points="520.5,769.0 514.9,777.8 526.1,777.8" fill="#008000" stroke="#ffff00" stroke-width="1.8" stroke-linejoin="miter"/>
<polygon points="541.9,765.3 536.3,774.1 547.5,774.1" fill="#008000" stroke="#ffff00" stroke-width="1.8" stroke-linejoin="miter"/>
<polygon points="563.2,764.0 557.6,772.8 568.8,772.8" fill="#008000" stroke="#ffff00" stroke-width="1.8" stroke-linejoin="miter"/>
<polygon points="584.6,753.0 579.0,761.8 590.2,761.8" fill="#008000" stroke="#ffff00" stroke-width="1.8" stroke-linejoin="miter"/>
<polygon points="606.0,751.5 600.4,760.3 611.6,760.3" fill="#008000" stroke="#ffff00" stroke-width="1.8" stroke-linejoin="miter"/>
<polygon points="627.3,748.6 621.7,757.4 632.9,757.4" fill="#008000" stroke="#ffff00" stroke-width="1.8" stroke-linejoin="miter"/>
<polygon points="648.7,709.4 643.1,718.2 654.3,718.2" fill="#008000" stroke="#ffff00" stroke-width="1.8" stroke-linejoin="miter"/>
<polygon points="670.0,708.1 664.4,716.9 675.6,716.9" fill="#008000" stroke="#ffff00" stroke-width="1.8" stroke-linejoin="miter"/>
<polygon points="691.4,706.6 685.8,715.4 697.0,715.4" fill="#008000" stroke="#ffff00" stroke-width="1.8" stroke-linejoin="miter"/>
<polygon points="712.8,707.2 707.2,716.0 718.4,716.0" fill="#008000" stroke="#ffff00" stroke-width="1.8" stroke-linejoin="miter"/>
<polygon points="734.1,694.0 728.5,702.8 739.7,702.8" fill="#008000" stroke="#ffff00" stroke-width="1.8" stroke-linejoin="miter"/>
<polygon points="755.5,694.0 749.9,702.8 761.1,702.8" fill="#008000" stroke="#ffff00" stroke-width="1.8" stroke-linejoin="miter"/>
<polygon points="776.8,694.9 771.2,703.7 782.4,703.7" fill="#008000" stroke="#ffff00" stroke-width="1.8" stroke-linejoin="miter"/>
<polygon points="798.2,695.6 792.6,704.4 803.8,704.4" fill="#008000" stroke="#ffff00" stroke-width="1.8" stroke-linejoin="miter"/>
<polygon points="819.6,693.1 814.0,701.9 825.2,701.9" fill="#008000" stroke="#ffff00" stroke-width="1.8" stroke-linejoin="miter"/>
<polygon points="840.9,694.0 835.3,702.8 846.5,702.8" fill="#008000" stroke="#ffff00" stroke-width="1.8" stroke-linejoin="miter"/>
<text x="158.1" y="1027.3" font-size="13.9" font-weight="bold" fill="#000" stroke="#000" stroke-width="0.25" textLength="27.4" lengthAdjust="spacingAndGlyphs">0.0</text>
<text x="158.1" y="995.9" font-size="13.9" font-weight="bold" fill="#000" stroke="#000" stroke-width="0.25" textLength="27.4" lengthAdjust="spacingAndGlyphs">2.0</text>
<text x="158.1" y="964.5" font-size="13.9" font-weight="bold" fill="#000" stroke="#000" stroke-width="0.25" textLength="27.4" lengthAdjust="spacingAndGlyphs">4.0</text>
<text x="158.1" y="933.1" font-size="13.9" font-weight="bold" fill="#000" stroke="#000" stroke-width="0.25" textLength="27.4" lengthAdjust="spacingAndGlyphs">6.0</text>
<text x="158.1" y="901.7" font-size="13.9" font-weight="bold" fill="#000" stroke="#000" stroke-width="0.25" textLength="27.4" lengthAdjust="spacingAndGlyphs">8.0</text>
<text x="147.1" y="870.3" font-size="13.9" font-weight="bold" fill="#000" stroke="#000" stroke-width="0.25" textLength="38.4" lengthAdjust="spacingAndGlyphs">10.0</text>
<text x="147.1" y="838.9" font-size="13.9" font-weight="bold" fill="#000" stroke="#000" stroke-width="0.25" textLength="38.4" lengthAdjust="spacingAndGlyphs">12.0</text>
<text x="147.1" y="807.5" font-size="13.9" font-weight="bold" fill="#000" stroke="#000" stroke-width="0.25" textLength="38.4" lengthAdjust="spacingAndGlyphs">14.0</text>
<text x="147.1" y="776.1" font-size="13.9" font-weight="bold" fill="#000" stroke="#000" stroke-width="0.25" textLength="38.4" lengthAdjust="spacingAndGlyphs">16.0</text>
<text x="147.1" y="744.7" font-size="13.9" font-weight="bold" fill="#000" stroke="#000" stroke-width="0.25" textLength="38.4" lengthAdjust="spacingAndGlyphs">18.0</text>
<text x="147.1" y="713.3" font-size="13.9" font-weight="bold" fill="#000" stroke="#000" stroke-width="0.25" textLength="38.4" lengthAdjust="spacingAndGlyphs">20.0</text>
<text x="147.1" y="681.9" font-size="13.9" font-weight="bold" fill="#000" stroke="#000" stroke-width="0.25" textLength="38.4" lengthAdjust="spacingAndGlyphs">22.0</text>
<text x="871.0" y="1027.5" font-size="14.2" font-weight="bold" fill="#000" stroke="#000" stroke-width="0.25" textLength="11.0" lengthAdjust="spacingAndGlyphs">0</text>
<text x="871.0" y="996.1" font-size="14.2" font-weight="bold" fill="#000" stroke="#000" stroke-width="0.25" textLength="22.0" lengthAdjust="spacingAndGlyphs">10</text>
<text x="871.0" y="964.7" font-size="14.2" font-weight="bold" fill="#000" stroke="#000" stroke-width="0.25" textLength="22.0" lengthAdjust="spacingAndGlyphs">20</text>
<text x="871.0" y="933.3" font-size="14.2" font-weight="bold" fill="#000" stroke="#000" stroke-width="0.25" textLength="22.0" lengthAdjust="spacingAndGlyphs">30</text>
<text x="871.0" y="901.9" font-size="14.2" font-weight="bold" fill="#000" stroke="#000" stroke-width="0.25" textLength="22.0" lengthAdjust="spacingAndGlyphs">40</text>
<text x="871.0" y="870.5" font-size="14.2" font-weight="bold" fill="#000" stroke="#000" stroke-width="0.25" textLength="22.0" lengthAdjust="spacingAndGlyphs">50</text>
<text x="871.0" y="839.1" font-size="14.2" font-weight="bold" fill="#000" stroke="#000" stroke-width="0.25" textLength="22.0" lengthAdjust="spacingAndGlyphs">60</text>
<text x="871.0" y="807.7" font-size="14.2" font-weight="bold" fill="#000" stroke="#000" stroke-width="0.25" textLength="22.0" lengthAdjust="spacingAndGlyphs">70</text>
<text x="871.0" y="776.3" font-size="14.2" font-weight="bold" fill="#000" stroke="#000" stroke-width="0.25" textLength="22.0" lengthAdjust="spacingAndGlyphs">80</text>
<text x="871.0" y="744.9" font-size="14.2" font-weight="bold" fill="#000" stroke="#000" stroke-width="0.25" textLength="22.0" lengthAdjust="spacingAndGlyphs">90</text>
<text x="871.0" y="713.5" font-size="14.2" font-weight="bold" fill="#000" stroke="#000" stroke-width="0.25" textLength="32.9" lengthAdjust="spacingAndGlyphs">100</text>
<text x="871.0" y="682.1" font-size="14.2" font-weight="bold" fill="#000" stroke="#000" stroke-width="0.25" textLength="31.8" lengthAdjust="spacingAndGlyphs">110</text>
<text transform="translate(223.4,1033) rotate(-90) scale(1,1.15)" font-size="14.5" font-weight="bold" stroke="#000" stroke-width="0.3" text-anchor="end">1</text>
<text transform="translate(266.1,1033) rotate(-90) scale(1,1.15)" font-size="14.5" font-weight="bold" stroke="#000" stroke-width="0.3" text-anchor="end">3</text>
<text transform="translate(308.8,1033) rotate(-90) scale(1,1.15)" font-size="14.5" font-weight="bold" stroke="#000" stroke-width="0.3" text-anchor="end">5</text>
<text transform="translate(351.5,1033) rotate(-90) scale(1,1.15)" font-size="14.5" font-weight="bold" stroke="#000" stroke-width="0.3" text-anchor="end">7</text>
<text transform="translate(394.3,1033) rotate(-90) scale(1,1.15)" font-size="14.5" font-weight="bold" stroke="#000" stroke-width="0.3" text-anchor="end">9</text>
<text transform="translate(437.0,1033) rotate(-90) scale(1,1.15)" font-size="14.5" font-weight="bold" stroke="#000" stroke-width="0.3" text-anchor="end">11</text>
<text transform="translate(479.7,1033) rotate(-90) scale(1,1.15)" font-size="14.5" font-weight="bold" stroke="#000" stroke-width="0.3" text-anchor="end">13</text>
<text transform="translate(522.4,1033) rotate(-90) scale(1,1.15)" font-size="14.5" font-weight="bold" stroke="#000" stroke-width="0.3" text-anchor="end">15</text>
<text transform="translate(565.1,1033) rotate(-90) scale(1,1.15)" font-size="14.5" font-weight="bold" stroke="#000" stroke-width="0.3" text-anchor="end">17</text>
<text transform="translate(607.9,1033) rotate(-90) scale(1,1.15)" font-size="14.5" font-weight="bold" stroke="#000" stroke-width="0.3" text-anchor="end">19</text>
<text transform="translate(650.6,1033) rotate(-90) scale(1,1.15)" font-size="14.5" font-weight="bold" stroke="#000" stroke-width="0.3" text-anchor="end">21</text>
<text transform="translate(693.3,1033) rotate(-90) scale(1,1.15)" font-size="14.5" font-weight="bold" stroke="#000" stroke-width="0.3" text-anchor="end">23</text>
<text transform="translate(736.0,1033) rotate(-90) scale(1,1.15)" font-size="14.5" font-weight="bold" stroke="#000" stroke-width="0.3" text-anchor="end">25</text>
<text transform="translate(778.7,1033) rotate(-90) scale(1,1.15)" font-size="14.5" font-weight="bold" stroke="#000" stroke-width="0.3" text-anchor="end">27</text>
<text transform="translate(821.5,1033) rotate(-90) scale(1,1.15)" font-size="14.5" font-weight="bold" stroke="#000" stroke-width="0.3" text-anchor="end">29</text>
<text transform="translate(125.1,849.6) rotate(-90)" font-size="15" font-weight="bold" stroke="#000" stroke-width="0.45" text-anchor="middle" textLength="69.7" lengthAdjust="spacingAndGlyphs">Millimeter</text>
<text transform="translate(928.8,856) rotate(-90)" font-size="15" font-weight="bold" stroke="#000" stroke-width="0.45" text-anchor="middle" textLength="151.5" lengthAdjust="spacingAndGlyphs">% nutzbare Kapazität</text>
<rect x="97.2" y="1093.4" width="766.8" height="50.4" fill="#fff" stroke="#666" stroke-width="1"/>
<rect x="104.7" y="1101.0" width="38.4" height="9.9" fill="#0000ff" stroke="#000" stroke-width="1"/>
<text transform="translate(149.5,1111.0) scale(1.3,1)" font-size="14.5" font-weight="bold" fill="#000" stroke="#000" stroke-width="0.35" textLength="143.1" lengthAdjust="spacing">Niederschlag (mm)</text>
<rect x="489.2" y="1101.2" width="37.8" height="9.2" fill="#ffff00" stroke="#000" stroke-width="1"/>
<text transform="translate(534.4,1111.0) scale(1.3,1)" font-size="14.5" font-weight="bold" fill="#000" stroke="#000" stroke-width="0.35" textLength="161.2" lengthAdjust="spacing">pot. Verdunstung (mm)</text>
<line x1="103.6" y1="1130.6" x2="145.2" y2="1130.6" stroke="#800000" stroke-width="3.6"/>
<polygon points="123.6,1125.7 118.0,1134.5 129.2,1134.5" fill="#008000" stroke="#ffff00" stroke-width="1.8" stroke-linejoin="miter"/>
<text transform="translate(149.5,1136.0) scale(1.3,1)" font-size="14.5" font-weight="bold" fill="#000" stroke="#000" stroke-width="0.35" textLength="248.5" lengthAdjust="spacing">Bodenfeuchte in %nK (Sand.Lehm)</text>
<text x="474.0" y="1360.0" font-size="16.3" font-weight="normal" text-anchor="start" fill="#222">Seite 6</text>
</svg>
</body></html>
